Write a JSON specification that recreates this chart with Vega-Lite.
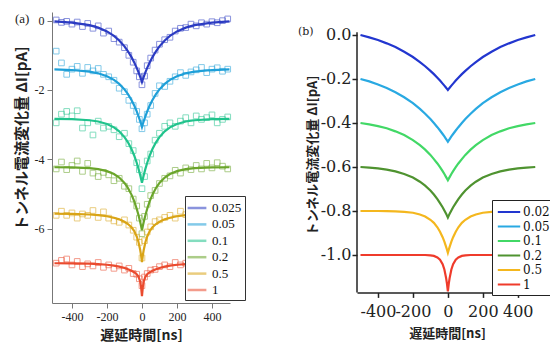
{
"$schema":"https://vega.github.io/schema/vega-lite/v6.json",
"autosize":{"type":"pad"},
"padding":{"left":13,"top":12,"right":0,"bottom":0},
"background":"white",
"spacing":127,
"bounds":"flush",
"config":{"view":{"stroke":null},"axis":{"grid":false},"font":"Liberation Serif"},
"datasets":{
"fitA":[
{"s":"0.025","t":-500,"v":-0.023},{"s":"0.025","t":-400,"v":-0.055},{"s":"0.025","t":-300,"v":-0.130},{"s":"0.025","t":-250,"v":-0.201},{"s":"0.025","t":-200,"v":-0.311},{"s":"0.025","t":-160,"v":-0.440},{"s":"0.025","t":-130,"v":-0.572},{"s":"0.025","t":-100,"v":-0.742},{"s":"0.025","t":-80,"v":-0.883},{"s":"0.025","t":-60,"v":-1.051},{"s":"0.025","t":-45,"v":-1.197},{"s":"0.025","t":-30,"v":-1.364},{"s":"0.025","t":-20,"v":-1.487},{"s":"0.025","t":-10,"v":-1.623},{"s":"0.025","t":-5,"v":-1.695},{"s":"0.025","t":0,"v":-1.77},{"s":"0.025","t":5,"v":-1.695},{"s":"0.025","t":10,"v":-1.623},{"s":"0.025","t":20,"v":-1.487},{"s":"0.025","t":30,"v":-1.364},{"s":"0.025","t":45,"v":-1.197},{"s":"0.025","t":60,"v":-1.051},{"s":"0.025","t":80,"v":-0.883},{"s":"0.025","t":100,"v":-0.742},{"s":"0.025","t":130,"v":-0.572},{"s":"0.025","t":160,"v":-0.440},{"s":"0.025","t":200,"v":-0.311},{"s":"0.025","t":250,"v":-0.201},{"s":"0.025","t":300,"v":-0.130},{"s":"0.025","t":400,"v":-0.055},{"s":"0.025","t":500,"v":-0.023},
{"s":"0.05","t":-500,"v":-1.409},{"s":"0.05","t":-400,"v":-1.425},{"s":"0.05","t":-300,"v":-1.471},{"s":"0.05","t":-250,"v":-1.520},{"s":"0.05","t":-200,"v":-1.603},{"s":"0.05","t":-160,"v":-1.710},{"s":"0.05","t":-130,"v":-1.825},{"s":"0.05","t":-100,"v":-1.983},{"s":"0.05","t":-80,"v":-2.119},{"s":"0.05","t":-60,"v":-2.288},{"s":"0.05","t":-45,"v":-2.440},{"s":"0.05","t":-30,"v":-2.618},{"s":"0.05","t":-20,"v":-2.753},{"s":"0.05","t":-10,"v":-2.903},{"s":"0.05","t":-5,"v":-2.984},{"s":"0.05","t":0,"v":-3.07},{"s":"0.05","t":5,"v":-2.984},{"s":"0.05","t":10,"v":-2.903},{"s":"0.05","t":20,"v":-2.753},{"s":"0.05","t":30,"v":-2.618},{"s":"0.05","t":45,"v":-2.440},{"s":"0.05","t":60,"v":-2.288},{"s":"0.05","t":80,"v":-2.119},{"s":"0.05","t":100,"v":-1.983},{"s":"0.05","t":130,"v":-1.825},{"s":"0.05","t":160,"v":-1.710},{"s":"0.05","t":200,"v":-1.603},{"s":"0.05","t":250,"v":-1.520},{"s":"0.05","t":300,"v":-1.471},{"s":"0.05","t":400,"v":-1.425},{"s":"0.05","t":500,"v":-1.409},
{"s":"0.1","t":-500,"v":-2.834},{"s":"0.1","t":-400,"v":-2.842},{"s":"0.1","t":-300,"v":-2.874},{"s":"0.1","t":-250,"v":-2.911},{"s":"0.1","t":-200,"v":-2.982},{"s":"0.1","t":-160,"v":-3.080},{"s":"0.1","t":-130,"v":-3.194},{"s":"0.1","t":-100,"v":-3.360},{"s":"0.1","t":-80,"v":-3.511},{"s":"0.1","t":-60,"v":-3.704},{"s":"0.1","t":-45,"v":-3.884},{"s":"0.1","t":-30,"v":-4.101},{"s":"0.1","t":-20,"v":-4.271},{"s":"0.1","t":-10,"v":-4.463},{"s":"0.1","t":-5,"v":-4.568},{"s":"0.1","t":0,"v":-4.68},{"s":"0.1","t":5,"v":-4.568},{"s":"0.1","t":10,"v":-4.463},{"s":"0.1","t":20,"v":-4.271},{"s":"0.1","t":30,"v":-4.101},{"s":"0.1","t":45,"v":-3.884},{"s":"0.1","t":60,"v":-3.704},{"s":"0.1","t":80,"v":-3.511},{"s":"0.1","t":100,"v":-3.360},{"s":"0.1","t":130,"v":-3.194},{"s":"0.1","t":160,"v":-3.080},{"s":"0.1","t":200,"v":-2.982},{"s":"0.1","t":250,"v":-2.911},{"s":"0.1","t":300,"v":-2.874},{"s":"0.1","t":400,"v":-2.842},{"s":"0.1","t":500,"v":-2.834},
{"s":"0.2","t":-500,"v":-4.232},{"s":"0.2","t":-400,"v":-4.237},{"s":"0.2","t":-300,"v":-4.258},{"s":"0.2","t":-250,"v":-4.287},{"s":"0.2","t":-200,"v":-4.343},{"s":"0.2","t":-160,"v":-4.427},{"s":"0.2","t":-130,"v":-4.529},{"s":"0.2","t":-100,"v":-4.684},{"s":"0.2","t":-80,"v":-4.829},{"s":"0.2","t":-60,"v":-5.021},{"s":"0.2","t":-45,"v":-5.204},{"s":"0.2","t":-30,"v":-5.430},{"s":"0.2","t":-20,"v":-5.609},{"s":"0.2","t":-10,"v":-5.814},{"s":"0.2","t":-5,"v":-5.928},{"s":"0.2","t":0,"v":-6.05},{"s":"0.2","t":5,"v":-5.928},{"s":"0.2","t":10,"v":-5.814},{"s":"0.2","t":20,"v":-5.609},{"s":"0.2","t":30,"v":-5.430},{"s":"0.2","t":45,"v":-5.204},{"s":"0.2","t":60,"v":-5.021},{"s":"0.2","t":80,"v":-4.829},{"s":"0.2","t":100,"v":-4.684},{"s":"0.2","t":130,"v":-4.529},{"s":"0.2","t":160,"v":-4.427},{"s":"0.2","t":200,"v":-4.343},{"s":"0.2","t":250,"v":-4.287},{"s":"0.2","t":300,"v":-4.258},{"s":"0.2","t":400,"v":-4.237},{"s":"0.2","t":500,"v":-4.232},
{"s":"0.5","t":-500,"v":-5.573},{"s":"0.5","t":-400,"v":-5.578},{"s":"0.5","t":-300,"v":-5.595},{"s":"0.5","t":-250,"v":-5.614},{"s":"0.5","t":-200,"v":-5.646},{"s":"0.5","t":-160,"v":-5.689},{"s":"0.5","t":-130,"v":-5.736},{"s":"0.5","t":-100,"v":-5.805},{"s":"0.5","t":-80,"v":-5.871},{"s":"0.5","t":-60,"v":-5.964},{"s":"0.5","t":-45,"v":-6.068},{"s":"0.5","t":-30,"v":-6.228},{"s":"0.5","t":-20,"v":-6.388},{"s":"0.5","t":-10,"v":-6.621},{"s":"0.5","t":-5,"v":-6.777},{"s":"0.5","t":0,"v":-6.97},{"s":"0.5","t":5,"v":-6.777},{"s":"0.5","t":10,"v":-6.621},{"s":"0.5","t":20,"v":-6.388},{"s":"0.5","t":30,"v":-6.228},{"s":"0.5","t":45,"v":-6.068},{"s":"0.5","t":60,"v":-5.964},{"s":"0.5","t":80,"v":-5.871},{"s":"0.5","t":100,"v":-5.805},{"s":"0.5","t":130,"v":-5.736},{"s":"0.5","t":160,"v":-5.689},{"s":"0.5","t":200,"v":-5.646},{"s":"0.5","t":250,"v":-5.614},{"s":"0.5","t":300,"v":-5.595},{"s":"0.5","t":400,"v":-5.578},{"s":"0.5","t":500,"v":-5.573},
{"s":"1","t":-500,"v":-7.002},{"s":"1","t":-400,"v":-7.005},{"s":"1","t":-300,"v":-7.015},{"s":"1","t":-250,"v":-7.027},{"s":"1","t":-200,"v":-7.046},{"s":"1","t":-160,"v":-7.072},{"s":"1","t":-130,"v":-7.101},{"s":"1","t":-100,"v":-7.141},{"s":"1","t":-80,"v":-7.176},{"s":"1","t":-60,"v":-7.220},{"s":"1","t":-45,"v":-7.261},{"s":"1","t":-30,"v":-7.319},{"s":"1","t":-20,"v":-7.385},{"s":"1","t":-10,"v":-7.532},{"s":"1","t":-5,"v":-7.684},{"s":"1","t":0,"v":-7.95},{"s":"1","t":5,"v":-7.684},{"s":"1","t":10,"v":-7.532},{"s":"1","t":20,"v":-7.385},{"s":"1","t":30,"v":-7.319},{"s":"1","t":45,"v":-7.261},{"s":"1","t":60,"v":-7.220},{"s":"1","t":80,"v":-7.176},{"s":"1","t":100,"v":-7.141},{"s":"1","t":130,"v":-7.101},{"s":"1","t":160,"v":-7.072},{"s":"1","t":200,"v":-7.046},{"s":"1","t":250,"v":-7.027},{"s":"1","t":300,"v":-7.015},{"s":"1","t":400,"v":-7.005},{"s":"1","t":500,"v":-7.002}
],
"obsA":[
{"s":"0.025","t":-490,"v":0.02},{"s":"0.025","t":-460,"v":-0.05},{"s":"0.025","t":-430,"v":-0.02},{"s":"0.025","t":-400,"v":-0.10},{"s":"0.025","t":-370,"v":-0.04},{"s":"0.025","t":-340,"v":-0.17},{"s":"0.025","t":-310,"v":-0.08},{"s":"0.025","t":-280,"v":-0.22},{"s":"0.025","t":-250,"v":-0.15},{"s":"0.025","t":-220,"v":-0.36},{"s":"0.025","t":-190,"v":-0.30},{"s":"0.025","t":-160,"v":-0.52},{"s":"0.025","t":-130,"v":-0.62},{"s":"0.025","t":-100,"v":-0.78},{"s":"0.025","t":-75,"v":-1.00},{"s":"0.025","t":-50,"v":-1.20},{"s":"0.025","t":-30,"v":-1.45},{"s":"0.025","t":-15,"v":-1.62},{"s":"0.025","t":0,"v":-1.85},{"s":"0.025","t":15,"v":-1.60},{"s":"0.025","t":30,"v":-1.30},{"s":"0.025","t":50,"v":-1.08},{"s":"0.025","t":75,"v":-0.85},{"s":"0.025","t":100,"v":-0.68},{"s":"0.025","t":130,"v":-0.55},{"s":"0.025","t":160,"v":-0.48},{"s":"0.025","t":190,"v":-0.30},{"s":"0.025","t":220,"v":-0.22},{"s":"0.025","t":250,"v":-0.20},{"s":"0.025","t":280,"v":-0.10},{"s":"0.025","t":310,"v":-0.15},{"s":"0.025","t":340,"v":-0.06},{"s":"0.025","t":370,"v":-0.10},{"s":"0.025","t":400,"v":-0.03},{"s":"0.025","t":430,"v":-0.06},{"s":"0.025","t":460,"v":0.00},{"s":"0.025","t":490,"v":0.05},
{"s":"0.05","t":-490,"v":-0.88},{"s":"0.05","t":-460,"v":-1.22},{"s":"0.05","t":-430,"v":-1.55},{"s":"0.05","t":-400,"v":-1.40},{"s":"0.05","t":-370,"v":-1.32},{"s":"0.05","t":-340,"v":-1.52},{"s":"0.05","t":-310,"v":-1.35},{"s":"0.05","t":-280,"v":-1.45},{"s":"0.05","t":-250,"v":-1.38},{"s":"0.05","t":-220,"v":-1.55},{"s":"0.05","t":-190,"v":-1.62},{"s":"0.05","t":-160,"v":-1.72},{"s":"0.05","t":-130,"v":-1.95},{"s":"0.05","t":-100,"v":-2.05},{"s":"0.05","t":-75,"v":-2.30},{"s":"0.05","t":-50,"v":-2.45},{"s":"0.05","t":-30,"v":-2.62},{"s":"0.05","t":-15,"v":-2.85},{"s":"0.05","t":0,"v":-3.12},{"s":"0.05","t":15,"v":-2.95},{"s":"0.05","t":30,"v":-2.70},{"s":"0.05","t":50,"v":-2.45},{"s":"0.05","t":75,"v":-2.10},{"s":"0.05","t":100,"v":-1.88},{"s":"0.05","t":130,"v":-1.90},{"s":"0.05","t":160,"v":-1.75},{"s":"0.05","t":190,"v":-1.62},{"s":"0.05","t":220,"v":-1.50},{"s":"0.05","t":250,"v":-1.58},{"s":"0.05","t":280,"v":-1.48},{"s":"0.05","t":310,"v":-1.42},{"s":"0.05","t":340,"v":-1.35},{"s":"0.05","t":370,"v":-1.50},{"s":"0.05","t":400,"v":-1.40},{"s":"0.05","t":430,"v":-1.36},{"s":"0.05","t":460,"v":-1.46},{"s":"0.05","t":490,"v":-1.40},
{"s":"0.1","t":-490,"v":-2.95},{"s":"0.1","t":-460,"v":-2.70},{"s":"0.1","t":-430,"v":-2.62},{"s":"0.1","t":-400,"v":-2.75},{"s":"0.1","t":-370,"v":-2.60},{"s":"0.1","t":-340,"v":-3.10},{"s":"0.1","t":-310,"v":-2.95},{"s":"0.1","t":-280,"v":-3.30},{"s":"0.1","t":-250,"v":-2.90},{"s":"0.1","t":-220,"v":-3.10},{"s":"0.1","t":-190,"v":-3.05},{"s":"0.1","t":-160,"v":-3.15},{"s":"0.1","t":-130,"v":-3.35},{"s":"0.1","t":-100,"v":-3.25},{"s":"0.1","t":-75,"v":-3.55},{"s":"0.1","t":-50,"v":-3.75},{"s":"0.1","t":-30,"v":-4.10},{"s":"0.1","t":-15,"v":-4.30},{"s":"0.1","t":0,"v":-4.85},{"s":"0.1","t":15,"v":-4.50},{"s":"0.1","t":30,"v":-4.05},{"s":"0.1","t":50,"v":-3.85},{"s":"0.1","t":75,"v":-3.45},{"s":"0.1","t":100,"v":-3.25},{"s":"0.1","t":130,"v":-3.05},{"s":"0.1","t":160,"v":-2.95},{"s":"0.1","t":190,"v":-3.05},{"s":"0.1","t":220,"v":-2.90},{"s":"0.1","t":250,"v":-2.80},{"s":"0.1","t":280,"v":-2.95},{"s":"0.1","t":310,"v":-2.75},{"s":"0.1","t":340,"v":-2.85},{"s":"0.1","t":370,"v":-2.80},{"s":"0.1","t":400,"v":-2.72},{"s":"0.1","t":430,"v":-2.95},{"s":"0.1","t":460,"v":-2.85},{"s":"0.1","t":490,"v":-2.78},
{"s":"0.2","t":-490,"v":-4.28},{"s":"0.2","t":-460,"v":-4.08},{"s":"0.2","t":-430,"v":-4.30},{"s":"0.2","t":-400,"v":-4.18},{"s":"0.2","t":-370,"v":-4.05},{"s":"0.2","t":-340,"v":-4.35},{"s":"0.2","t":-310,"v":-4.12},{"s":"0.2","t":-280,"v":-4.40},{"s":"0.2","t":-250,"v":-4.50},{"s":"0.2","t":-220,"v":-4.38},{"s":"0.2","t":-190,"v":-4.45},{"s":"0.2","t":-160,"v":-4.62},{"s":"0.2","t":-130,"v":-4.55},{"s":"0.2","t":-100,"v":-4.78},{"s":"0.2","t":-75,"v":-4.85},{"s":"0.2","t":-50,"v":-5.15},{"s":"0.2","t":-30,"v":-5.35},{"s":"0.2","t":-15,"v":-5.70},{"s":"0.2","t":0,"v":-6.15},{"s":"0.2","t":15,"v":-5.65},{"s":"0.2","t":30,"v":-5.30},{"s":"0.2","t":50,"v":-5.05},{"s":"0.2","t":75,"v":-4.90},{"s":"0.2","t":100,"v":-4.70},{"s":"0.2","t":130,"v":-4.55},{"s":"0.2","t":160,"v":-4.48},{"s":"0.2","t":190,"v":-4.32},{"s":"0.2","t":220,"v":-4.40},{"s":"0.2","t":250,"v":-4.25},{"s":"0.2","t":280,"v":-4.30},{"s":"0.2","t":310,"v":-4.18},{"s":"0.2","t":340,"v":-4.28},{"s":"0.2","t":370,"v":-4.12},{"s":"0.2","t":400,"v":-4.25},{"s":"0.2","t":430,"v":-4.10},{"s":"0.2","t":460,"v":-4.20},{"s":"0.2","t":490,"v":-4.28},
{"s":"0.5","t":-490,"v":-5.62},{"s":"0.5","t":-460,"v":-5.50},{"s":"0.5","t":-430,"v":-5.62},{"s":"0.5","t":-400,"v":-5.55},{"s":"0.5","t":-370,"v":-5.70},{"s":"0.5","t":-340,"v":-5.58},{"s":"0.5","t":-310,"v":-5.62},{"s":"0.5","t":-280,"v":-5.48},{"s":"0.5","t":-250,"v":-5.68},{"s":"0.5","t":-220,"v":-5.52},{"s":"0.5","t":-190,"v":-5.70},{"s":"0.5","t":-160,"v":-5.78},{"s":"0.5","t":-130,"v":-5.82},{"s":"0.5","t":-100,"v":-5.75},{"s":"0.5","t":-75,"v":-5.90},{"s":"0.5","t":-50,"v":-6.05},{"s":"0.5","t":-30,"v":-6.25},{"s":"0.5","t":-15,"v":-6.40},{"s":"0.5","t":0,"v":-6.85},{"s":"0.5","t":15,"v":-6.35},{"s":"0.5","t":30,"v":-6.10},{"s":"0.5","t":50,"v":-5.95},{"s":"0.5","t":75,"v":-5.80},{"s":"0.5","t":100,"v":-5.75},{"s":"0.5","t":130,"v":-5.68},{"s":"0.5","t":160,"v":-5.62},{"s":"0.5","t":190,"v":-5.70},{"s":"0.5","t":220,"v":-5.50},{"s":"0.5","t":250,"v":-5.60},{"s":"0.5","t":280,"v":-5.55},{"s":"0.5","t":310,"v":-5.52},{"s":"0.5","t":340,"v":-5.60},{"s":"0.5","t":370,"v":-5.55},{"s":"0.5","t":400,"v":-5.62},{"s":"0.5","t":430,"v":-5.52},{"s":"0.5","t":460,"v":-5.58},{"s":"0.5","t":490,"v":-5.55},
{"s":"1","t":-490,"v":-7.00},{"s":"1","t":-460,"v":-6.92},{"s":"1","t":-430,"v":-6.88},{"s":"1","t":-400,"v":-7.05},{"s":"1","t":-370,"v":-6.95},{"s":"1","t":-340,"v":-7.10},{"s":"1","t":-310,"v":-7.02},{"s":"1","t":-280,"v":-7.08},{"s":"1","t":-250,"v":-6.98},{"s":"1","t":-220,"v":-7.12},{"s":"1","t":-190,"v":-7.05},{"s":"1","t":-160,"v":-7.15},{"s":"1","t":-130,"v":-7.08},{"s":"1","t":-100,"v":-7.20},{"s":"1","t":-75,"v":-7.15},{"s":"1","t":-50,"v":-7.30},{"s":"1","t":-30,"v":-7.32},{"s":"1","t":-15,"v":-7.45},{"s":"1","t":0,"v":-7.65},{"s":"1","t":15,"v":-7.40},{"s":"1","t":30,"v":-7.30},{"s":"1","t":50,"v":-7.20},{"s":"1","t":75,"v":-7.18},{"s":"1","t":100,"v":-7.10},{"s":"1","t":130,"v":-7.05},{"s":"1","t":160,"v":-7.10},{"s":"1","t":190,"v":-6.98},{"s":"1","t":220,"v":-7.05},{"s":"1","t":250,"v":-7.00},{"s":"1","t":280,"v":-6.95},{"s":"1","t":310,"v":-7.05},{"s":"1","t":340,"v":-6.98},{"s":"1","t":370,"v":-7.02},{"s":"1","t":400,"v":-6.95},{"s":"1","t":430,"v":-7.05},{"s":"1","t":460,"v":-7.00},{"s":"1","t":490,"v":-6.98}
],
"fitB":[
{"s":"0.025","t":-500,"v":0},{"s":"0.025","t":-450,"v":-0.011},{"s":"0.025","t":-400,"v":-0.023},{"s":"0.025","t":-350,"v":-0.038},{"s":"0.025","t":-300,"v":-0.055},{"s":"0.025","t":-250,"v":-0.076},{"s":"0.025","t":-200,"v":-0.100},{"s":"0.025","t":-160,"v":-0.123},{"s":"0.025","t":-130,"v":-0.142},{"s":"0.025","t":-100,"v":-0.163},{"s":"0.025","t":-80,"v":-0.178},{"s":"0.025","t":-60,"v":-0.194},{"s":"0.025","t":-45,"v":-0.207},{"s":"0.025","t":-30,"v":-0.221},{"s":"0.025","t":-20,"v":-0.230},{"s":"0.025","t":-10,"v":-0.240},{"s":"0.025","t":-5,"v":-0.245},{"s":"0.025","t":0,"v":-0.25},{"s":"0.025","t":5,"v":-0.245},{"s":"0.025","t":10,"v":-0.240},{"s":"0.025","t":20,"v":-0.230},{"s":"0.025","t":30,"v":-0.221},{"s":"0.025","t":45,"v":-0.207},{"s":"0.025","t":60,"v":-0.194},{"s":"0.025","t":80,"v":-0.178},{"s":"0.025","t":100,"v":-0.163},{"s":"0.025","t":130,"v":-0.142},{"s":"0.025","t":160,"v":-0.123},{"s":"0.025","t":200,"v":-0.100},{"s":"0.025","t":250,"v":-0.076},{"s":"0.025","t":300,"v":-0.055},{"s":"0.025","t":350,"v":-0.038},{"s":"0.025","t":400,"v":-0.023},{"s":"0.025","t":450,"v":-0.011},{"s":"0.025","t":500,"v":0},
{"s":"0.05","t":-500,"v":-0.200},{"s":"0.05","t":-450,"v":-0.211},{"s":"0.05","t":-400,"v":-0.225},{"s":"0.05","t":-350,"v":-0.241},{"s":"0.05","t":-300,"v":-0.260},{"s":"0.05","t":-250,"v":-0.283},{"s":"0.05","t":-200,"v":-0.310},{"s":"0.05","t":-160,"v":-0.336},{"s":"0.05","t":-130,"v":-0.358},{"s":"0.05","t":-100,"v":-0.382},{"s":"0.05","t":-80,"v":-0.400},{"s":"0.05","t":-60,"v":-0.419},{"s":"0.05","t":-45,"v":-0.434},{"s":"0.05","t":-30,"v":-0.450},{"s":"0.05","t":-20,"v":-0.461},{"s":"0.05","t":-10,"v":-0.473},{"s":"0.05","t":-5,"v":-0.479},{"s":"0.05","t":0,"v":-0.485},{"s":"0.05","t":5,"v":-0.479},{"s":"0.05","t":10,"v":-0.473},{"s":"0.05","t":20,"v":-0.461},{"s":"0.05","t":30,"v":-0.450},{"s":"0.05","t":45,"v":-0.434},{"s":"0.05","t":60,"v":-0.419},{"s":"0.05","t":80,"v":-0.400},{"s":"0.05","t":100,"v":-0.382},{"s":"0.05","t":130,"v":-0.358},{"s":"0.05","t":160,"v":-0.336},{"s":"0.05","t":200,"v":-0.310},{"s":"0.05","t":250,"v":-0.283},{"s":"0.05","t":300,"v":-0.260},{"s":"0.05","t":350,"v":-0.241},{"s":"0.05","t":400,"v":-0.225},{"s":"0.05","t":450,"v":-0.211},{"s":"0.05","t":500,"v":-0.200},
{"s":"0.1","t":-500,"v":-0.400},{"s":"0.1","t":-450,"v":-0.406},{"s":"0.1","t":-400,"v":-0.414},{"s":"0.1","t":-350,"v":-0.424},{"s":"0.1","t":-300,"v":-0.438},{"s":"0.1","t":-250,"v":-0.455},{"s":"0.1","t":-200,"v":-0.478},{"s":"0.1","t":-160,"v":-0.501},{"s":"0.1","t":-130,"v":-0.521},{"s":"0.1","t":-100,"v":-0.545},{"s":"0.1","t":-80,"v":-0.564},{"s":"0.1","t":-60,"v":-0.584},{"s":"0.1","t":-45,"v":-0.601},{"s":"0.1","t":-30,"v":-0.619},{"s":"0.1","t":-20,"v":-0.632},{"s":"0.1","t":-10,"v":-0.646},{"s":"0.1","t":-5,"v":-0.653},{"s":"0.1","t":0,"v":-0.660},{"s":"0.1","t":5,"v":-0.653},{"s":"0.1","t":10,"v":-0.646},{"s":"0.1","t":20,"v":-0.632},{"s":"0.1","t":30,"v":-0.619},{"s":"0.1","t":45,"v":-0.601},{"s":"0.1","t":60,"v":-0.584},{"s":"0.1","t":80,"v":-0.564},{"s":"0.1","t":100,"v":-0.545},{"s":"0.1","t":130,"v":-0.521},{"s":"0.1","t":160,"v":-0.501},{"s":"0.1","t":200,"v":-0.478},{"s":"0.1","t":250,"v":-0.455},{"s":"0.1","t":300,"v":-0.438},{"s":"0.1","t":350,"v":-0.424},{"s":"0.1","t":400,"v":-0.414},{"s":"0.1","t":450,"v":-0.406},{"s":"0.1","t":500,"v":-0.400},
{"s":"0.2","t":-500,"v":-0.600},{"s":"0.2","t":-450,"v":-0.603},{"s":"0.2","t":-400,"v":-0.606},{"s":"0.2","t":-350,"v":-0.612},{"s":"0.2","t":-300,"v":-0.620},{"s":"0.2","t":-250,"v":-0.632},{"s":"0.2","t":-200,"v":-0.648},{"s":"0.2","t":-160,"v":-0.667},{"s":"0.2","t":-130,"v":-0.685},{"s":"0.2","t":-100,"v":-0.707},{"s":"0.2","t":-80,"v":-0.725},{"s":"0.2","t":-60,"v":-0.746},{"s":"0.2","t":-45,"v":-0.764},{"s":"0.2","t":-30,"v":-0.783},{"s":"0.2","t":-20,"v":-0.798},{"s":"0.2","t":-10,"v":-0.813},{"s":"0.2","t":-5,"v":-0.821},{"s":"0.2","t":0,"v":-0.830},{"s":"0.2","t":5,"v":-0.821},{"s":"0.2","t":10,"v":-0.813},{"s":"0.2","t":20,"v":-0.798},{"s":"0.2","t":30,"v":-0.783},{"s":"0.2","t":45,"v":-0.764},{"s":"0.2","t":60,"v":-0.746},{"s":"0.2","t":80,"v":-0.725},{"s":"0.2","t":100,"v":-0.707},{"s":"0.2","t":130,"v":-0.685},{"s":"0.2","t":160,"v":-0.667},{"s":"0.2","t":200,"v":-0.648},{"s":"0.2","t":250,"v":-0.632},{"s":"0.2","t":300,"v":-0.620},{"s":"0.2","t":350,"v":-0.612},{"s":"0.2","t":400,"v":-0.606},{"s":"0.2","t":450,"v":-0.603},{"s":"0.2","t":500,"v":-0.600},
{"s":"0.5","t":-500,"v":-0.800},{"s":"0.5","t":-450,"v":-0.800},{"s":"0.5","t":-400,"v":-0.800},{"s":"0.5","t":-350,"v":-0.801},{"s":"0.5","t":-300,"v":-0.802},{"s":"0.5","t":-250,"v":-0.804},{"s":"0.5","t":-200,"v":-0.808},{"s":"0.5","t":-160,"v":-0.816},{"s":"0.5","t":-130,"v":-0.825},{"s":"0.5","t":-100,"v":-0.840},{"s":"0.5","t":-80,"v":-0.854},{"s":"0.5","t":-60,"v":-0.874},{"s":"0.5","t":-45,"v":-0.894},{"s":"0.5","t":-30,"v":-0.919},{"s":"0.5","t":-20,"v":-0.939},{"s":"0.5","t":-10,"v":-0.963},{"s":"0.5","t":-5,"v":-0.976},{"s":"0.5","t":0,"v":-0.990},{"s":"0.5","t":5,"v":-0.976},{"s":"0.5","t":10,"v":-0.963},{"s":"0.5","t":20,"v":-0.939},{"s":"0.5","t":30,"v":-0.919},{"s":"0.5","t":45,"v":-0.894},{"s":"0.5","t":60,"v":-0.874},{"s":"0.5","t":80,"v":-0.854},{"s":"0.5","t":100,"v":-0.840},{"s":"0.5","t":130,"v":-0.825},{"s":"0.5","t":160,"v":-0.816},{"s":"0.5","t":200,"v":-0.808},{"s":"0.5","t":250,"v":-0.804},{"s":"0.5","t":300,"v":-0.802},{"s":"0.5","t":350,"v":-0.801},{"s":"0.5","t":400,"v":-0.800},{"s":"0.5","t":450,"v":-0.800},{"s":"0.5","t":500,"v":-0.800},
{"s":"1","t":-500,"v":-1.000},{"s":"1","t":-400,"v":-1.000},{"s":"1","t":-300,"v":-1.000},{"s":"1","t":-200,"v":-1.000},{"s":"1","t":-160,"v":-1.000},{"s":"1","t":-130,"v":-1.000},{"s":"1","t":-100,"v":-1.002},{"s":"1","t":-80,"v":-1.004},{"s":"1","t":-60,"v":-1.011},{"s":"1","t":-45,"v":-1.021},{"s":"1","t":-30,"v":-1.042},{"s":"1","t":-20,"v":-1.066},{"s":"1","t":-10,"v":-1.105},{"s":"1","t":-5,"v":-1.131},{"s":"1","t":0,"v":-1.165},{"s":"1","t":5,"v":-1.131},{"s":"1","t":10,"v":-1.105},{"s":"1","t":20,"v":-1.066},{"s":"1","t":30,"v":-1.042},{"s":"1","t":45,"v":-1.021},{"s":"1","t":60,"v":-1.011},{"s":"1","t":80,"v":-1.004},{"s":"1","t":100,"v":-1.002},{"s":"1","t":130,"v":-1.000},{"s":"1","t":160,"v":-1.000},{"s":"1","t":200,"v":-1.000},{"s":"1","t":300,"v":-1.000},{"s":"1","t":400,"v":-1.000},{"s":"1","t":500,"v":-1.000}
]
},
"hconcat":[
{
"width":178,"height":291,
"title":{"text":"(a)","anchor":"start","frame":"group","orient":"top","offset":0,"dx":-37,"dy":20,"baseline":"middle","font":"Liberation Serif","fontSize":13,"fontWeight":"normal","color":"#222"},
"layer":[
{"data":{"name":"obsA"},
 "mark":{"type":"point","shape":"square","filled":false,"size":32,"strokeWidth":1,"opacity":0.55},
 "encoding":{
  "x":{"field":"t","type":"quantitative","scale":{"domain":[-514,503],"nice":false,"zero":false},
       "axis":{"values":[-400,-200,0,200,400],"labelOverlap":false,"labelExpr":"datum.value < 0 ? '-' + (-datum.value) : '' + datum.value","title":"遅延時間[ns]","titleFont":"Noto Sans CJK JP","titleFontSize":14,"titleFontWeight":"bold","titleColor":"#222","titlePadding":6,"labelFont":"Liberation Serif","labelFontSize":12,"labelColor":"#222","labelPadding":3,"tickSize":5,"tickColor":"#777","domainColor":"#777"}},
  "y":{"field":"v","type":"quantitative","scale":{"domain":[-8.15,0.25],"nice":false,"zero":false},
       "axis":{"values":[0,-2,-4,-6],"labelOverlap":false,"labelExpr":"datum.value < 0 ? '-' + (-datum.value) : '' + datum.value","title":"トンネル電流変化量 ΔI[pA]","titleFont":"Noto Sans CJK JP","titleFontSize":15,"titleFontWeight":"bold","titleColor":"#222","titleX":-31,"titleY":126,"titleBaseline":"middle","titleAngle":270,"labelFont":"Liberation Serif","labelFontSize":12,"labelColor":"#222","labelPadding":3,"tickSize":5,"tickColor":"#777","domainColor":"#777"}},
  "color":{"field":"s","type":"nominal","scale":{"domain":["0.025","0.05","0.1","0.2","0.5","1"],"range":["#2b3bc2","#1e9fd8","#20c38c","#6aa52a","#d9a416","#ea4a2e"]},
       "legend":{"title":null,"orient":"none","direction":"vertical","legendX":133,"legendY":184,"symbolType":"M-1.25,0H1.25","symbolSize":225,"symbolStrokeWidth":2.5,"rowPadding":0.4,"labelFont":"Liberation Serif","labelFontSize":13,"labelColor":"#111","labelOffset":6,"padding":3,"strokeColor":"#333","fillColor":"white"}}
 }},
{"data":{"name":"fitA"},
 "mark":{"type":"line","strokeWidth":2.2},
 "encoding":{"x":{"field":"t","type":"quantitative"},"y":{"field":"v","type":"quantitative"},"color":{"field":"s","type":"nominal"}}}
]
},
{
"width":180,"height":280.4,
"title":{"text":"(b)","anchor":"start","frame":"group","orient":"top","offset":0,"dx":-59,"dy":31,"baseline":"middle","font":"DejaVu Serif","fontSize":11,"fontWeight":"normal","color":"#222"},
"layer":[
{"data":{"name":"fitB"},
 "mark":{"type":"line","strokeWidth":2.2},
 "encoding":{
  "x":{"field":"t","type":"quantitative","scale":{"domain":[-520,510],"nice":false,"zero":false},
       "axis":{"values":[-400,-200,0,200,400],"labelOverlap":false,"labelExpr":"datum.value < 0 ? '-' + (-datum.value) : '' + datum.value","title":"遅延時間[ns]","titleFont":"Noto Sans CJK JP","titleFontSize":13,"titleFontWeight":"bold","titleColor":"#222","titlePadding":8,"labelFont":"DejaVu Serif","labelFontSize":16,"labelColor":"#222","labelPadding":6,"tickSize":5,"tickWidth":1.5,"tickColor":"#222","domainColor":"#222","domainWidth":1.5}},
  "y":{"field":"v","type":"quantitative","scale":{"domain":[-1.17,0.1045],"nice":false,"zero":false},
       "axis":{"values":[0,-0.2,-0.4,-0.6,-0.8,-1.0],"labelOverlap":false,"labelExpr":"datum.value < 0 ? '-' + format(-datum.value, '.1f') : format(datum.value, '.1f')","domain":false,"title":"トンネル電流変化量 ΔI[pA]","titleFont":"Noto Sans CJK JP","titleFontSize":13,"titleFontWeight":"bold","titleColor":"#222","titleX":-45,"titleY":143,"titleBaseline":"middle","titleAngle":270,"labelFont":"DejaVu Serif","labelFontSize":16,"labelColor":"#222","labelPadding":1,"tickSize":5,"tickWidth":1.5,"tickColor":"#222"}},
  "color":{"field":"s","type":"nominal","scale":{"domain":["0.025","0.05","0.1","0.2","0.5","1"],"range":["#2236cf","#29a9e2","#42d866","#4f9330","#f4b71e","#ef3b2b"]},
       "legend":{"title":null,"orient":"none","direction":"vertical","legendX":135,"legendY":188,"symbolType":"M-1.6,0H1.6","symbolSize":196,"symbolStrokeWidth":2,"symbolOffset":5,"rowPadding":0.5,"labelFont":"DejaVu Serif","labelFontSize":12,"labelColor":"#111","labelOffset":6,"padding":4,"strokeColor":"#222","fillColor":"white"}}
 }},
{"data":{"values":[{}]},
 "mark":{"type":"rule","color":"#222","strokeWidth":1.5},
 "encoding":{"x":{"datum":-520,"type":"quantitative"},"y":{"datum":0.012,"type":"quantitative"},"y2":{"datum":-1.17}}}
]
}
],
"resolve":{"scale":{"color":"independent"},"legend":{"color":"independent"}}
}
